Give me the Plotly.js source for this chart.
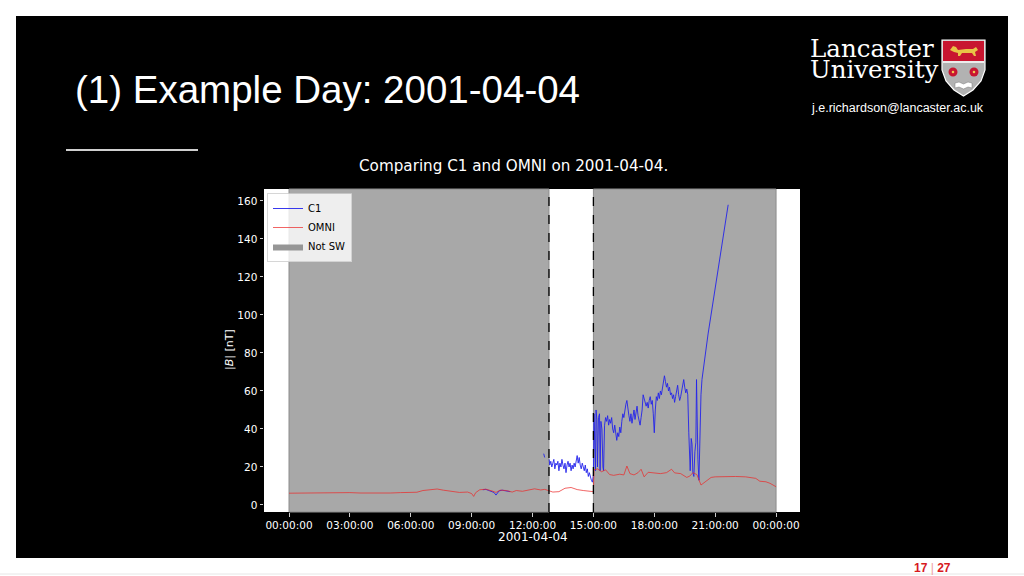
<!DOCTYPE html>
<html>
<head>
<meta charset="utf-8">
<script src="https://cdn.plot.ly/plotly-3.0.1.min.js"></script>
<style>
html,body{margin:0;padding:0;background:#fff;}
#chart{width:1024px;height:576px;}
</style>
</head>
<body>
<div id="chart"></div>
<script>
// ---- data (hours of 2001-04-04, |B| in nT) ----
const seriesNames = ["C1", "OMNI", "Not SW"];

const omniHours = [0.0,0.5,1.0,1.5,2.0,2.5,3.0,3.5,4.0,4.5,5.0,5.5,6.0,6.3,6.6,7.0,7.3,7.6,8.0,8.4,8.8,9.0,9.1,9.2,9.4,9.7,10.0,10.2,10.4,10.7,11.0,11.2,11.5,11.8,12.1,12.4,12.6,12.81,13.0,13.3,13.6,13.9,14.2,14.5,14.8,15.0,
  15.03,15.2,15.4,15.6,15.8,16.0,16.3,16.5,16.65,16.8,17.0,17.2,17.35,17.5,17.7,18.0,18.3,18.6,18.85,19.0,19.3,19.6,19.75,19.9,20.1,20.3,20.5,20.8,21.0,21.5,22.0,22.5,23.0,23.2,23.5,23.7,24.0];
const omniValues = [6.2,6.3,6.2,6.4,6.3,6.4,6.5,6.3,6.2,6.4,6.3,6.5,6.4,6.7,7.6,7.9,8.4,7.8,7.0,6.6,6.8,6.0,4.5,6.5,8.0,8.3,7.4,6.6,7.8,7.6,6.8,7.6,7.2,8.0,8.5,7.9,8.2,7.5,6.8,7.0,8.8,9.2,8.1,7.6,7.3,7.0,
  18.5,19.0,17.5,18.5,16.0,15.6,16.2,15.8,20.5,16.5,15.8,17.0,18.8,14.8,17.2,16.8,16.5,17.0,18.8,16.9,16.5,14.5,15.2,17.0,16.0,10.5,12.0,14.5,14.8,15.0,15.0,14.8,14.0,12.5,12.2,11.4,9.6];

const c1Hours = [9.55,9.7,9.85,10.0,10.1,10.2,10.25,10.35,10.5,10.7,10.9,11.0,
  12.55,12.6,12.7,
  12.82,12.85,12.9,12.95,13.0,13.05,13.1,13.15,13.2,13.25,13.3,13.35,13.4,13.45,13.5,13.55,13.6,13.65,13.7,13.75,13.8,13.85,13.9,13.95,14.0,14.05,14.1,14.15,14.2,14.25,14.3,14.35,14.4,14.45,14.5,14.55,14.6,14.65,14.7,14.75,14.8,14.85,14.9,14.95,15.0,
  15.03,15.06,15.1,15.13,15.17,15.2,15.25,15.3,15.33,15.37,15.42,15.47,15.5,15.55,15.6,15.65,15.7,15.75,15.8,15.85,15.9,15.95,16.0,16.05,16.1,16.15,16.2,16.25,16.3,16.35,16.4,16.45,16.5,16.55,16.6,16.65,16.7,16.75,16.8,16.85,16.9,16.95,17.0,17.05,17.1,17.15,17.2,17.25,17.3,17.35,17.4,17.45,17.5,17.55,17.6,17.65,17.7,17.75,17.8,17.85,17.9,17.95,18.0,18.05,18.1,18.15,18.2,18.25,18.3,18.35,18.4,18.45,18.5,18.55,18.6,18.65,18.7,18.75,18.8,18.85,18.9,18.95,19.0,19.05,19.1,19.15,19.2,19.25,19.3,19.35,19.4,19.45,19.5,19.55,19.6,19.65,19.7,19.73,19.77,19.82,19.86,19.9,19.95,20.0,20.05,20.08,20.11,20.15,20.2,20.25,20.3,20.35,20.4,20.65,21.64];
const c1Values = [8.0,8.2,7.6,7.0,6.6,5.2,6.2,7.4,7.8,7.5,7.0,null,
  27,25,null,
  24,21,23,20,22,24,19,22,21,23,18,22,20,24,21,19,22,17,21,23,20,22,18,21,19,22,20,24,26,22,25,21,19,22,20,18,21,17,19,15,17,14,13,12,16,
  48,30,18,50,45,20,46,48,18,44,40,20,18,42,46,44,47,42,45,43,46,40,38,42,36,34,38,36,41,38,44,48,46,50,53,55,50,47,44,48,43,46,50,45,48,52,47,44,42,46,50,58,56,55,52,54,51,55,57,53,55,48,38,50,57,55,59,56,60,58,62,64,68,65,62,64,60,62,58,59,56,58,54,57,60,63,58,55,57,60,63,66,62,59,61,58,38,22,18,35,32,17,15,28,33,66,30,24,13,40,58,66,70,90,158];

const spanStarts = [0, 15.0];
const spanEnds = [12.81, 24.0];
const boundaryHours = [12.81, 15.0];

const xTickVals = [0,3,6,9,12,15,18,21,24];
const xTickLabels = ["00:00:00","03:00:00","06:00:00","09:00:00","12:00:00","15:00:00","18:00:00","21:00:00","00:00:00"];
const yTickVals = [0,20,40,60,80,100,120,140,160];

// ---- pixel helpers for slide decoration ----
const L=264, R=800, T=189, B=512;
const PX = p => (p-L)/(R-L);
const PY = p => (B-p)/(B-T);

const shapes = [];
// white page borders around the black slide
[[0,0,1024,16],[0,558,1024,576],[0,0,16,576],[1008,0,1024,576]].forEach(r=>{
  shapes.push({type:'rect',xref:'paper',yref:'paper',x0:PX(r[0]),x1:PX(r[2]),y0:PY(r[3]),y1:PY(r[1]),fillcolor:'#ffffff',line:{width:0},layer:'below'});
});
shapes.push({type:'line',xref:'paper',yref:'paper',x0:PX(0),x1:PX(1024),y0:PY(574),y1:PY(574),line:{color:'#e6e6e6',width:1}});
// title underline
shapes.push({type:'line',xref:'paper',yref:'paper',x0:PX(66),x1:PX(198),y0:PY(150),y1:PY(150),line:{color:'#cfcfcf',width:2}});
// gray "not solar wind" spans
for(let i=0;i<spanStarts.length;i++){
  shapes.push({type:'rect',xref:'x',yref:'paper',x0:spanStarts[i],x1:spanEnds[i],y0:0,y1:1,fillcolor:'rgb(168,168,168)',line:{color:'rgb(140,140,140)',width:1},layer:'below'});
}
boundaryHours.forEach(h=>{
  shapes.push({type:'line',xref:'x',yref:'paper',x0:h,x1:h,y0:0,y1:1,line:{color:'#000',width:1.3,dash:'dash'},layer:'above'});
});
// university shield
const sp = (pts)=> pts.map((p,i)=>(i?'L':'M')+PX(p[0])+','+PY(p[1])).join(' ')+' Z';
shapes.push({type:'path',xref:'paper',yref:'paper',path:sp([[942,40],[985,40],[985,70],[981,81],[973,90],[963.5,96],[954,90],[946,81],[942,70]]),fillcolor:'rgb(178,178,178)',line:{color:'#ffffff',width:1.2}});
shapes.push({type:'path',xref:'paper',yref:'paper',path:sp([[943,41],[984,41],[984,61],[943,61]]),fillcolor:'rgb(200,22,48)',line:{width:0}});
// lion passant (rough)
shapes.push({type:'path',xref:'paper',yref:'paper',path:sp([[950,50],[953,46],[956,47],[958,50],[966,49],[973,49],[976,47],[978,50],[975,52],[976,56],[974,56],[972,53],[962,53],[960,56],[958,56],[958,53],[954,52]]),fillcolor:'rgb(232,196,70)',line:{width:0}});
shapes.push({type:'line',xref:'paper',yref:'paper',x0:PX(943),x1:PX(984),y0:PY(62),y1:PY(62),line:{color:'#fff',width:1.5}});
[[953,72],[974,72]].forEach(c=>{
  shapes.push({type:'circle',xref:'paper',yref:'paper',x0:PX(c[0]-4.5),x1:PX(c[0]+4.5),y0:PY(c[1]+4.5),y1:PY(c[1]-4.5),fillcolor:'rgb(200,22,48)',line:{width:0}});
  shapes.push({type:'circle',xref:'paper',yref:'paper',x0:PX(c[0]-1.3),x1:PX(c[0]+1.3),y0:PY(c[1]+1.3),y1:PY(c[1]-1.3),fillcolor:'rgb(240,200,80)',line:{width:0}});
});
// open book
shapes.push({type:'path',xref:'paper',yref:'paper',path:sp([[955,83],[959,82],[963.5,84],[968,82],[972,83],[972,88],[968,87],[963.5,89],[959,87],[955,88]]),fillcolor:'#ffffff',line:{color:'rgb(120,120,120)',width:0.5}});

const annotations = [
  {text:'(1) Example Day: 2001-04-04',x:PX(73),y:PY(89),xanchor:'left',yanchor:'middle',font:{family:'Liberation Sans, Arial, sans-serif',size:38.5,color:'#ffffff'}},
  {text:'<span style="font-size:24.5px">Lancaster</span><br><span style="font-size:24.5px">University</span>',x:PX(808),y:PY(59),xanchor:'left',yanchor:'middle',align:'left',font:{family:'DejaVu Serif, serif',size:16,color:'#ffffff'}},
  {text:'j.e.richardson@lancaster.ac.uk',x:PX(897),y:PY(108),xanchor:'center',yanchor:'middle',font:{family:'Liberation Sans, Arial, sans-serif',size:12.5,color:'#ffffff'}},
  {text:'Comparing C1 and OMNI on 2001-04-04.',x:PX(513),y:PY(166),xanchor:'center',yanchor:'middle',font:{family:'DejaVu Sans, sans-serif',size:15.2,color:'#ffffff'}},
  {text:'|<i>B</i>| [nT]',x:PX(229),y:PY(350),xanchor:'center',yanchor:'middle',textangle:-90,font:{family:'DejaVu Sans, sans-serif',size:11,color:'#ffffff'}},
  {text:'2001-04-04',x:PX(533),y:PY(537),xanchor:'center',yanchor:'middle',font:{family:'DejaVu Sans, sans-serif',size:12,color:'#ffffff'}},
  {text:'<b>17</b> <span style="color:#f0a0a0">|</span> <b>27</b>',x:PX(932),y:PY(568),xanchor:'center',yanchor:'middle',font:{family:'Liberation Sans, Arial, sans-serif',size:12,color:'rgb(215,25,30)'}}
].map(a=>Object.assign({xref:'paper',yref:'paper',showarrow:false},a));

const traces = [
  {x:c1Hours,y:c1Values,name:seriesNames[0],type:'scatter',mode:'lines',connectgaps:false,line:{color:'rgb(35,35,235)',width:0.9}},
  {x:omniHours,y:omniValues,name:seriesNames[1],type:'scatter',mode:'lines',line:{color:'rgba(235,40,40,0.8)',width:0.9}},
  {x:[null],y:[null],name:seriesNames[2],type:'scatter',mode:'lines',fill:'toself',fillcolor:'rgb(150,150,150)',line:{width:0,color:'rgb(150,150,150)'}}
];

const tickFont = {family:'DejaVu Sans, sans-serif',size:10.5,color:'#ffffff'};
const layout = {
  width:1024,height:576,
  margin:{l:L,r:1024-R,t:T,b:576-B,pad:0},
  paper_bgcolor:'#000000',plot_bgcolor:'#ffffff',
  showlegend:true,
  legend:{x:PX(267),y:PY(193),xanchor:'left',yanchor:'top',bgcolor:'rgba(255,255,255,0.8)',bordercolor:'rgba(204,204,204,0.8)',borderwidth:1,font:{family:'DejaVu Sans, sans-serif',size:10,color:'#000'},itemwidth:30,tracegroupgap:0},
  xaxis:{range:[-1.232,25.18],tickmode:'array',tickvals:xTickVals,ticktext:xTickLabels,ticks:'outside',ticklen:3.5,tickwidth:0.8,tickcolor:'#ffffff',tickfont:tickFont,showgrid:false,zeroline:false,showline:false,fixedrange:true},
  yaxis:{range:[-3.7,166.3],tickmode:'array',tickvals:yTickVals,ticks:'outside',ticklen:3.5,tickwidth:0.8,tickcolor:'#ffffff',tickfont:tickFont,showgrid:false,zeroline:false,showline:false,fixedrange:true},
  shapes:shapes,
  annotations:annotations
};

Plotly.newPlot('chart',traces,layout,{staticPlot:true,displayModeBar:false});
</script>
</body>
</html>
